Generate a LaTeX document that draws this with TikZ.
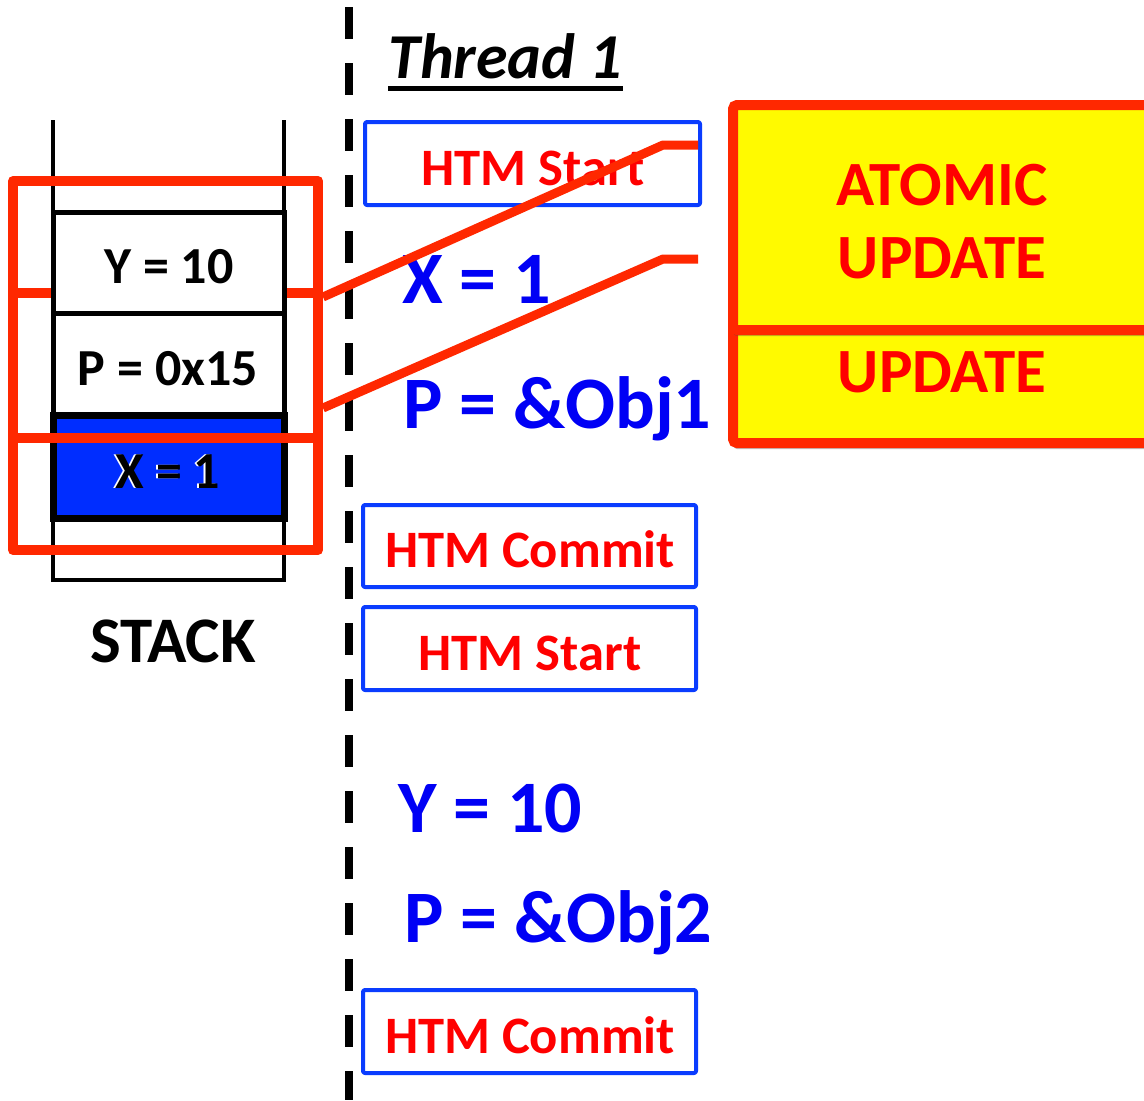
\documentclass[tikz,border=0pt]{standalone}
\usepackage{fontspec}
\setmainfont{Carlito}
\usetikzlibrary{shadows}
\definecolor{lred}{RGB}{255,40,0}
\definecolor{tred}{RGB}{255,0,0}
\definecolor{bbox}{RGB}{10,60,255}
\definecolor{btext}{RGB}{0,0,245}
\definecolor{sblue}{RGB}{0,45,255}
\definecolor{yel}{RGB}{255,250,0}
\begin{document}
\begin{tikzpicture}[x=0.5pt,y=-0.5pt,
  htmbox/.style={draw=bbox, line width=2pt, minimum width=167.5pt, minimum height=41.5pt, inner sep=0pt, line join=round, rounded corners=1pt},
  htmtext/.style={anchor=base, text=tred, font=\fontsize{26.3}{30}\selectfont\bfseries, inner sep=0pt},
  code/.style={anchor=base west, text=btext, font=\fontsize{37}{42}\selectfont\bfseries, inner sep=0pt},
  stacktext/.style={anchor=base, text=black, font=\fontsize{26}{30}\selectfont\bfseries, inner sep=0pt},
  redline/.style={draw=lred, line width=5pt, line join=round},
  conn/.style={draw=lred, line width=4.5pt, line join=round},
  slot/.style={draw=black, line width=2.5pt, fill=white},
  yelbox/.style={draw=lred, fill=yel, line width=5pt, rounded corners=2pt, inner sep=0pt,
     minimum width=208.5pt, minimum height=112.5pt,
     drop shadow={shadow xshift=0pt, shadow yshift=-3pt, opacity=0.35, fill=black!70}},
  atext/.style={anchor=base, inner sep=0pt, text=tred, font=\fontsize{31.5}{37.5}\selectfont\bfseries}
]
\useasboundingbox (0,0) rectangle (1144,1100);
\fill[white] (0,0) rectangle (1144,1100);

% dashed separator
\coordinate (dtop) at (349,7);
\coordinate (dbot) at (349,1100);
\draw[line width=4pt, dash pattern=on 16pt off 12pt] (dtop) -- (dbot);

% stack frame
\draw[line width=2pt] (53,120) -- (53,580) -- (284,580) -- (284,120);

% red rectangle behind slots
\draw[redline] (13,293) rectangle (318,550);

% stack slots
\draw[slot] (53,212) rectangle (284,313);
\draw[slot] (53,313) rectangle (284,415);
\draw[draw=black, line width=3.5pt, fill=sblue] (53,415) rectangle (284,518);
\node[stacktext] (sy) at (169,283) {Y = 10};
\node[stacktext] (sp) at (168,385) {P = 0x15};
\node[stacktext, text=white] at (166,488) {X = 1};
\node[stacktext] (sx) at (168,488) {X = 1};

% red rectangle in front
\draw[redline] (13,181) rectangle (318,438);

\node[stacktext, font=\fontsize{32.5}{38}\selectfont\bfseries] (stack) at (173,662) {STACK};

% thread title
\node[anchor=base west, inner sep=0pt, font=\fontsize{32}{40}\selectfont\bfseries\itshape] (thr) at (388,78) {Thread 1};
\draw[line width=2.5pt] ([yshift=-5pt]thr.base west) -- ([yshift=-5pt]thr.base east);

% HTM boxes
\node[htmbox] (s1) at (532.5,163.5) {};
\node[htmtext] (s1t) at (533,185) {HTM Start};
\node[htmbox, minimum width=166.5pt, minimum height=41pt] (c1) at (529.5,546) {};
\node[htmtext] (c1t) at (530,567) {HTM Commit};
\node[htmbox, minimum width=166.5pt] (s2) at (529.5,648.5) {};
\node[htmtext] (s2t) at (530,670) {HTM Start};
\node[htmbox, minimum width=166.5pt] (c2) at (529.5,1031.5) {};
\node[htmtext] (c2t) at (530,1053) {HTM Commit};

% code lines
\node[code] (x1) at (402,303) {X = 1};
\node[code] (p1) at (403,428) {P = \&Obj1};
\node[code] (y2) at (398,832) {Y = 10};
\node[code] (p2) at (404,942) {P = \&Obj2};

% yellow boxes
\node[yelbox] (ab2) at (941.5,330.5) {};
\node[atext] (ab2t) at (942,392) {UPDATE};
\node[yelbox] (ab1) at (941.5,217.5) {};
\node[atext] (ab1t) at (942,205) {ATOMIC};
\node[atext] (ab1u) at (942,278) {UPDATE};

% connectors
\coordinate (k1a) at (323,297);
\coordinate (k1b) at (663,145);
\coordinate (k1c) at (698,145);
\coordinate (k2a) at (323,408);
\coordinate (k2b) at (663,259);
\coordinate (k2c) at (698,259);
\draw[conn] (k1a) -- (k1b) -- (k1c);
\draw[conn] (k2a) -- (k2b) -- (k2c);
\end{tikzpicture}
\end{document}
